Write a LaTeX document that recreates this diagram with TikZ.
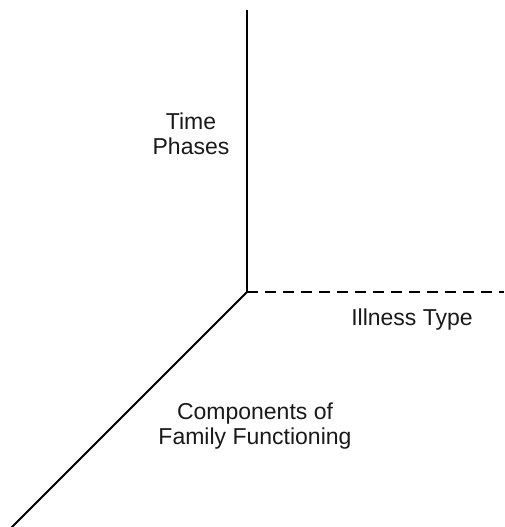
\documentclass[tikz,border=0pt]{standalone}
\usepackage{fontspec}
\setmainfont{Liberation Sans}
\begin{document}
\begin{tikzpicture}[x=1pt,y=-1pt,
  axis/.style={line width=2pt,black},
  dashaxis/.style={line width=2pt,black,dash pattern=on 11pt off 7pt},
  lbl/.style={font=\fontsize{23}{25}\selectfont,align=center,inner sep=0pt,text=black!90}]
\useasboundingbox (0,0) rectangle (504,527);
\coordinate (O) at (247,292);
\coordinate (top) at (247,10);
\coordinate (right) at (504,292);
\coordinate (bl) at (11,528);
\draw[axis] (top) -- (O);
\draw[axis] (O) -- (bl);
\draw[dashaxis] (O) -- (right);
\node[lbl] (time) at (191,134) {Time\\Phases};
\node[lbl,anchor=base] (ill) at (412,325) {Illness Type};
\node[lbl] (comp) at (255,426) {Components of\\Family Functioning};
\end{tikzpicture}
\end{document}
